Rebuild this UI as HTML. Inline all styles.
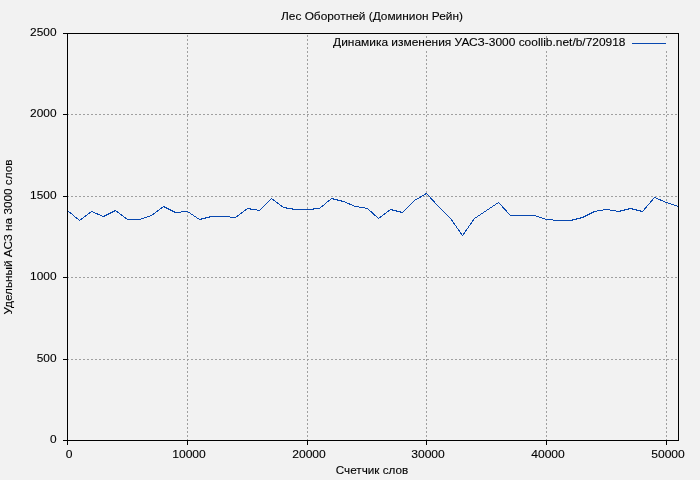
<!DOCTYPE html>
<html><head><meta charset="utf-8"><style>
html,body{margin:0;padding:0;background:#f2f2f2;overflow:hidden;}
svg{display:block;will-change:transform;}
text{font-family:"Liberation Sans", sans-serif;fill:#000;}
</style></head><body>
<svg width="700" height="480" viewBox="0 0 700 480">
<rect width="700" height="480" fill="#f2f2f2"/>
<g shape-rendering="crispEdges">
<line x1="187.5" y1="441" x2="187.5" y2="34" stroke="#a0a0a0" stroke-dasharray="2 2"/>
<line x1="307.5" y1="441" x2="307.5" y2="34" stroke="#a0a0a0" stroke-dasharray="2 2"/>
<line x1="426.5" y1="441" x2="426.5" y2="50" stroke="#a0a0a0" stroke-dasharray="2 2"/>
<line x1="426.5" y1="38" x2="426.5" y2="34" stroke="#a0a0a0" stroke-dasharray="2 2"/>
<line x1="546.5" y1="441" x2="546.5" y2="50" stroke="#a0a0a0" stroke-dasharray="2 2"/>
<line x1="546.5" y1="38" x2="546.5" y2="34" stroke="#a0a0a0" stroke-dasharray="2 2"/>
<line x1="666.5" y1="441" x2="666.5" y2="50" stroke="#a0a0a0" stroke-dasharray="2 2"/>
<line x1="666.5" y1="38" x2="666.5" y2="34" stroke="#a0a0a0" stroke-dasharray="2 2"/>
<line x1="67" y1="359.5" x2="678" y2="359.5" stroke="#a0a0a0" stroke-dasharray="2 2"/>
<line x1="67" y1="277.5" x2="678" y2="277.5" stroke="#a0a0a0" stroke-dasharray="2 2"/>
<line x1="67" y1="196.5" x2="678" y2="196.5" stroke="#a0a0a0" stroke-dasharray="2 2"/>
<line x1="67" y1="114.5" x2="678" y2="114.5" stroke="#a0a0a0" stroke-dasharray="2 2"/>
<line x1="67.5" y1="441" x2="67.5" y2="445" stroke="#000"/>
<line x1="187.5" y1="441" x2="187.5" y2="445" stroke="#000"/>
<line x1="307.5" y1="441" x2="307.5" y2="445" stroke="#000"/>
<line x1="426.5" y1="441" x2="426.5" y2="445" stroke="#000"/>
<line x1="546.5" y1="441" x2="546.5" y2="445" stroke="#000"/>
<line x1="666.5" y1="441" x2="666.5" y2="445" stroke="#000"/>
<line x1="63" y1="440.5" x2="67" y2="440.5" stroke="#000"/>
<line x1="63" y1="359.5" x2="67" y2="359.5" stroke="#000"/>
<line x1="63" y1="277.5" x2="67" y2="277.5" stroke="#000"/>
<line x1="63" y1="196.5" x2="67" y2="196.5" stroke="#000"/>
<line x1="63" y1="114.5" x2="67" y2="114.5" stroke="#000"/>
<line x1="63" y1="33.5" x2="67" y2="33.5" stroke="#000"/>
<polyline points="67.5,210.5 79.5,220.5 91.5,211.5 103.5,216.5 115.5,210.5 127.5,219.5 139.5,219.5 151.5,215.5 163.5,206.5 175.5,212.5 187.5,211.5 199.5,219.5 211.5,216.5 223.5,216.5 235.5,217.5 247.5,208.5 259.5,210.5 271.5,198.5 283.5,207.5 295.5,209.5 307.5,209.5 319.5,208.5 331.5,198.5 343.5,201.5 355.5,206.5 367.5,208.5 378.5,218.5 390.5,209.5 402.5,212.5 414.5,200.5 426.5,193.5 438.5,206.5 450.5,218.5 462.5,235.5 474.5,218.5 486.5,210.5 498.5,202.5 510.5,215.5 522.5,215.5 534.5,215.5 546.5,219.5 558.5,220.5 570.5,220.5 582.5,217.5 594.5,211.5 606.5,209.5 618.5,211.5 630.5,208.5 642.5,211.5 654.5,197.5 666.5,202.5 678.5,206.5" fill="none" stroke="#0848b0"/>
<line x1="632" y1="43.5" x2="666" y2="43.5" stroke="#0848b0"/>
<path d="M67.5 33.5H678.5V440.5H67.5Z" fill="none" stroke="#000"/>
</g>
<g>
<text transform="translate(372 19.5) scale(1.08 1)" text-anchor="middle" font-size="11" stroke="#000" stroke-width="0.1">Лес Оборотней (Доминион Рейн)</text>
<text transform="translate(625.5 45.5) scale(1.087 1)" text-anchor="end" font-size="11" stroke="#000" stroke-width="0.1">Динамика изменения УАСЗ-3000 coollib.net/b/720918</text>
<text transform="translate(56.5 442.5) scale(1.08 1)" text-anchor="end" font-size="11" stroke="#000" stroke-width="0.1">0</text>
<text transform="translate(56.5 361.5) scale(1.08 1)" text-anchor="end" font-size="11" stroke="#000" stroke-width="0.1">500</text>
<text transform="translate(56.5 279.5) scale(1.08 1)" text-anchor="end" font-size="11" stroke="#000" stroke-width="0.1">1000</text>
<text transform="translate(56.5 198.5) scale(1.08 1)" text-anchor="end" font-size="11" stroke="#000" stroke-width="0.1">1500</text>
<text transform="translate(56.5 116.5) scale(1.08 1)" text-anchor="end" font-size="11" stroke="#000" stroke-width="0.1">2000</text>
<text transform="translate(56.5 35.5) scale(1.08 1)" text-anchor="end" font-size="11" stroke="#000" stroke-width="0.1">2500</text>
<text transform="translate(69.0 457.5) scale(1.1 1)" text-anchor="middle" font-size="11" stroke="#000" stroke-width="0.1">0</text>
<text transform="translate(189.0 457.5) scale(1.1 1)" text-anchor="middle" font-size="11" stroke="#000" stroke-width="0.1">10000</text>
<text transform="translate(309.0 457.5) scale(1.1 1)" text-anchor="middle" font-size="11" stroke="#000" stroke-width="0.1">20000</text>
<text transform="translate(428.0 457.5) scale(1.1 1)" text-anchor="middle" font-size="11" stroke="#000" stroke-width="0.1">30000</text>
<text transform="translate(548.0 457.5) scale(1.1 1)" text-anchor="middle" font-size="11" stroke="#000" stroke-width="0.1">40000</text>
<text transform="translate(668.0 457.5) scale(1.1 1)" text-anchor="middle" font-size="11" stroke="#000" stroke-width="0.1">50000</text>
<text transform="translate(372 473.5) scale(1.065 1)" text-anchor="middle" font-size="11" stroke="#000" stroke-width="0.1">Счетчик слов</text>
<text transform="translate(11.5 237) rotate(-90) scale(1.07 1)" text-anchor="middle" font-size="11" stroke="#000" stroke-width="0.1">Удельный АСЗ на 3000 слов</text>
</g>
</svg>
</body></html>
